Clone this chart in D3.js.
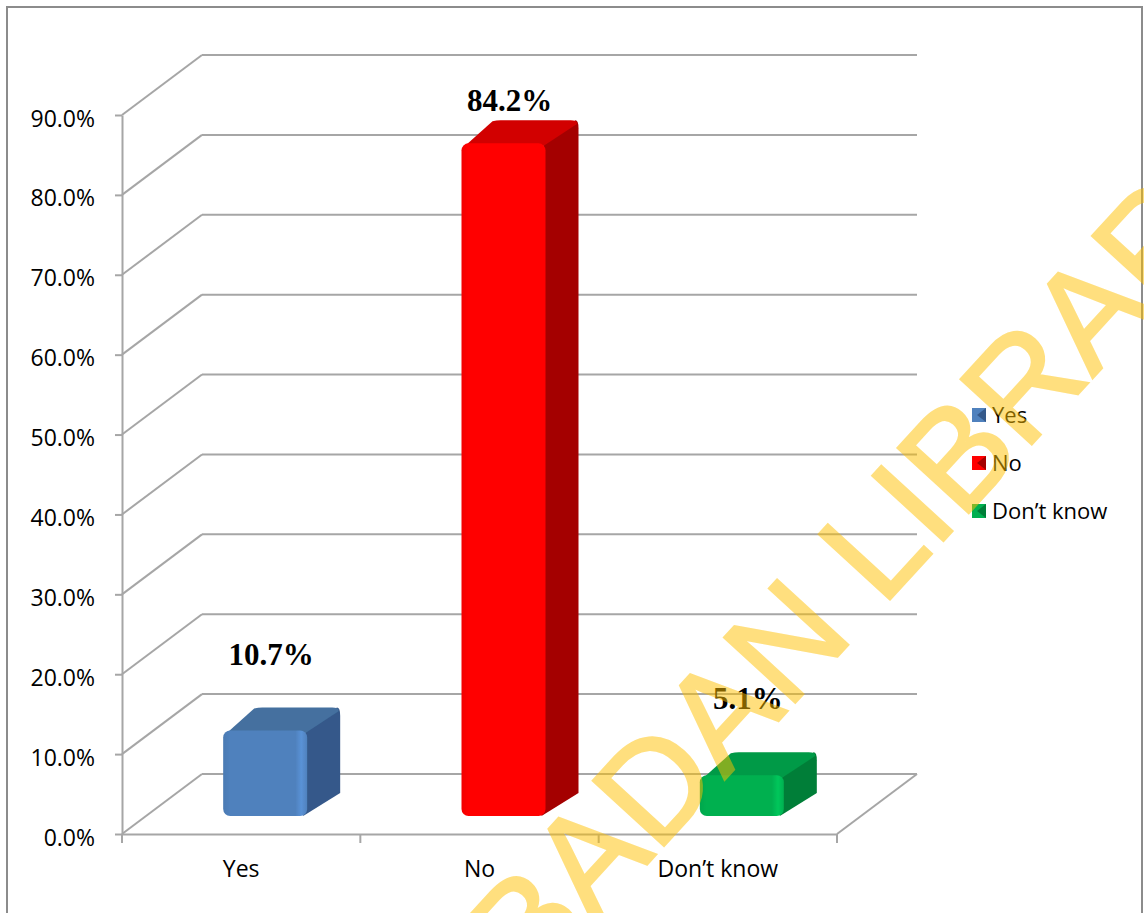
<!DOCTYPE html>
<html>
<head>
<meta charset="utf-8">
<script src="https://cdn.jsdelivr.net/npm/d3@7"></script>
<style>
  html, body { margin: 0; padding: 0; background: #fff; }
  svg { display: block; }
</style>
</head>
<body>
<svg id="chart" width="1144" height="913"></svg>
<script>
(function () {
// ---- data ----
const categories = ["Yes", "No", "Don\u2019t know"];
const values = [10.7, 84.2, 5.1];
const valueLabels = ["10.7%", "84.2%", "5.1%"];
const yTicks = [0, 10, 20, 30, 40, 50, 60, 70, 80, 90];
const legendLabels = ["Yes", "No", "Don\u2019t know"];
const watermarkText = "BADAN LIBRARY";
const frontColors = ["#4F81BD", "#FF0000", "#00B050"];
const topColors = ["#44709F", "#D20000", "#009A46"];
const sideColors = ["#35598A", "#A40000", "#007E38"];

// ---- layout ----
const svg = d3.select("#chart");
const pLeft = 122, pRight = 837, pBottom = 834, pTop = 115;
const DX = 80, DY = -60;          // depth of the 3D floor / walls
const frac = 0.3;                 // depth position of bar front
const barW = 84, barDX = 33, barDY = -23;

const x = d3.scaleBand().domain(categories).range([pLeft, pRight]);
const y = d3.scaleLinear().domain([0, 90]).range([pBottom, pTop]);

// frame
svg.append("rect").attr("x", 7).attr("y", 7).attr("width", 1135).attr("height", 940)
  .attr("fill", "none").attr("stroke", "#8c8c8c").attr("stroke-width", 2);

const grid = "#a6a6a6";

// back wall gridlines and left wall diagonals
const g = svg.append("g");
yTicks.forEach(t => {
  g.append("line").attr("x1", pLeft + DX).attr("x2", pRight + DX)
    .attr("y1", y(t) + DY).attr("y2", y(t) + DY)
    .attr("stroke", grid).attr("stroke-width", 2);
  g.append("line").attr("x1", pLeft).attr("x2", pLeft + DX)
    .attr("y1", y(t)).attr("y2", y(t) + DY)
    .attr("stroke", grid).attr("stroke-width", 2);
});
g.append("line").attr("x1", pRight).attr("x2", pRight + DX)
  .attr("y1", y(0)).attr("y2", y(0) + DY).attr("stroke", grid).attr("stroke-width", 2);

// y axis
const yAxis = d3.axisLeft(y).tickValues(yTicks)
  .tickFormat(d => d.toFixed(1) + "%").tickSize(7).tickSizeOuter(0).tickPadding(20);
const ya = svg.append("g").attr("transform", `translate(${pLeft},0)`).call(yAxis);
ya.select(".domain").attr("stroke", grid).attr("stroke-width", 2);
ya.selectAll(".tick line").attr("stroke", grid).attr("stroke-width", 2);
ya.selectAll(".tick text").attr("font-family", "'Open Sans', sans-serif")
  .attr("font-size", 23).attr("fill", "#000").attr("dy", "0.48em");

// x axis
const xAxis = d3.axisBottom(x).tickSize(0).tickSizeOuter(0).tickPadding(27);
const xa = svg.append("g").attr("transform", `translate(0,${pBottom})`).call(xAxis);
xa.select(".domain").attr("stroke", grid).attr("stroke-width", 2);
xa.selectAll(".tick text").attr("font-family", "'Open Sans', sans-serif")
  .attr("font-size", 23).attr("fill", "#000");
const bounds = categories.map(c => x(c)).concat([x(categories[categories.length - 1]) + x.bandwidth()]);
xa.selectAll(".btick").data(bounds).enter().append("line")
  .attr("x1", d => d).attr("x2", d => d).attr("y1", 0).attr("y2", 9)
  .attr("stroke", grid).attr("stroke-width", 2);

// gradients
const defs = svg.append("defs");
frontColors.forEach((c, i) => {
  const lgr = defs.append("linearGradient").attr("id", "fg" + i)
    .attr("x1", "0").attr("x2", "1").attr("y1", "0").attr("y2", "0");
  const lighter = d3.color(c).brighter(0.35);
  const darker = d3.color(c).darker(0.15);
  lgr.append("stop").attr("offset", "0").attr("stop-color", darker);
  lgr.append("stop").attr("offset", "0.08").attr("stop-color", c);
  lgr.append("stop").attr("offset", "0.86").attr("stop-color", c);
  lgr.append("stop").attr("offset", "0.93").attr("stop-color", lighter);
  lgr.append("stop").attr("offset", "1").attr("stop-color", c);
});
defs.append("filter").attr("id", "soft").append("feGaussianBlur").attr("stdDeviation", 0.6);

// bars
const bars = svg.append("g").attr("filter", "url(#soft)");
categories.forEach((c, i) => {
  const cx = x(c) + x.bandwidth() / 2 + DX * frac;
  const x0 = cx - barW / 2, x1 = cx + barW / 2;
  const yb = y(0) + DY * frac, yt = y(values[i]) + DY * frac;
  const r = 8;
  bars.append("path")
    .attr("d", `M${x1 - 2},${yt + 2} L${x1 + barDX - r * 0.4},${yt + barDY}
                Q${x1 + barDX},${yt + barDY} ${x1 + barDX},${yt + barDY + r}
                L${x1 + barDX},${yb + barDY} L${x1 - 4},${yb} Z`)
    .attr("fill", sideColors[i]);
  bars.append("path")
    .attr("d", `M${x0 + 2},${yt + 4} L${x0 + barDX - 2},${yt + barDY + 1}
                Q${x0 + barDX + 2},${yt + barDY} ${x0 + barDX + 6},${yt + barDY}
                L${x1 + barDX - r},${yt + barDY}
                Q${x1 + barDX},${yt + barDY} ${x1 + barDX - 2},${yt + barDY + 4}
                L${x1 - 4},${yt + 4} Z`)
    .attr("fill", topColors[i]);
  bars.append("rect").attr("x", x0).attr("y", yt).attr("width", barW).attr("height", yb - yt)
    .attr("rx", 7).attr("ry", 7).attr("fill", `url(#fg${i})`);
});

// value labels
categories.forEach((c, i) => {
  const cx = x(c) + x.bandwidth() / 2 + DX * frac + 6;
  const yt = y(values[i]) + DY * frac;
  svg.append("text").attr("x", cx).attr("y", Math.max(yt - 66, 111))
    .attr("text-anchor", "middle")
    .attr("font-family", "'Liberation Serif', 'Times New Roman', serif")
    .attr("font-weight", "bold").attr("font-size", 31).attr("fill", "#000")
    .text(valueLabels[i]);
});

// legend
const leg = svg.append("g").attr("transform", "translate(972,415)");
legendLabels.forEach((l, i) => {
  const row = leg.append("g").attr("transform", `translate(0,${i * 48})`);
  row.append("rect").attr("x", 0).attr("y", -7).attr("width", 14).attr("height", 14)
    .attr("fill", frontColors[i]);
  row.append("path").attr("d", "M14,-7 L14,7 L5,0 Z").attr("fill", sideColors[i]);
  row.append("text").attr("x", 20).attr("y", 0).attr("dy", "0.36em")
    .attr("font-family", "'Open Sans', sans-serif").attr("font-size", 22).attr("fill", "#000")
    .text(l);
});

// watermark
const wm = svg.append("g").attr("transform", "translate(530,992) rotate(-47.5)")
  .attr("fill", "#FFC000").attr("stroke", "#FFC000").attr("stroke-width", 2.5)
  .attr("opacity", 0.5)
  .attr("font-family", "'Liberation Sans', Arial, sans-serif").attr("font-size", 140);
wm.append("text").attr("x", 0).attr("y", 0).attr("text-anchor", "start").text(watermarkText);
})();
</script>
</body>
</html>
